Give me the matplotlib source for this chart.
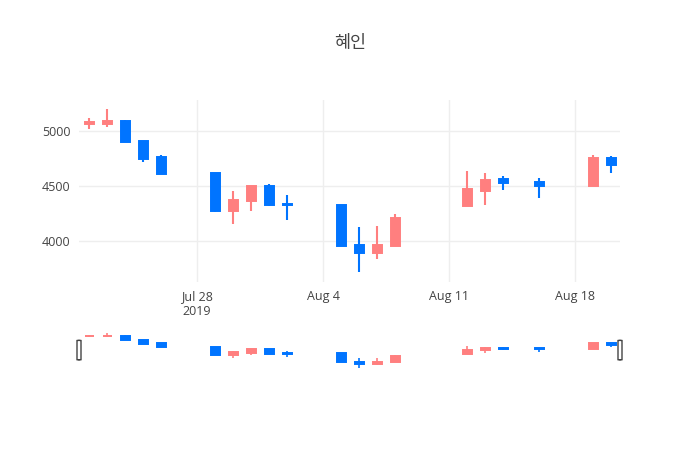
import pandas as pd
import matplotlib
matplotlib.use('Agg')
import matplotlib.pyplot as plt
import matplotlib.dates as mdates
from matplotlib.patches import FancyBboxPatch

# OHLC values
dates = ['2019-07-22', '2019-07-23', '2019-07-24', '2019-07-25', '2019-07-26',
         '2019-07-29', '2019-07-30', '2019-07-31', '2019-08-01', '2019-08-02',
         '2019-08-05', '2019-08-06', '2019-08-07', '2019-08-08',
         '2019-08-12', '2019-08-13', '2019-08-14', '2019-08-16',
         '2019-08-19', '2019-08-20']
opens = [5060, 5060, 5090, 4910, 4760, 4615, 4270, 4365, 4500, 4335,
         4330, 3965, 3895, 3950, 4315, 4455, 4560, 4540, 4500, 4755]
highs = [5120, 5200, 5100, 4910, 4780, 4620, 4450, 4500, 4520, 4420,
         4330, 4130, 4140, 4245, 4635, 4620, 4590, 4575, 4780, 4775]
lows = [5015, 5040, 4900, 4720, 4605, 4265, 4155, 4270, 4320, 4190,
        3950, 3715, 3835, 3950, 4315, 4330, 4465, 4390, 4500, 4620]
closes = [5080, 5090, 4900, 4750, 4605, 4270, 4375, 4500, 4325, 4325,
          3950, 3895, 3965, 4205, 4470, 4555, 4530, 4500, 4755, 4690]

title = '혜인'
x_ticks = ['2019-07-28', '2019-08-04', '2019-08-11', '2019-08-18']
x_tick_labels = ['Jul 28\n2019', 'Aug 4', 'Aug 11', 'Aug 18']
y_ticks = [4000, 4500, 5000]

up_color = '#ff7f7f'
down_color = '#0074ff'
text_color = '#444444'

df = pd.DataFrame({'Date': pd.to_datetime(dates), 'Open': opens, 'High': highs,
                   'Low': lows, 'Close': closes})
df['x'] = mdates.date2num(df['Date'])
df['color'] = [up_color if c >= o else down_color for o, c in zip(df['Open'], df['Close'])]

x0 = df['x'].iloc[0] - 0.56
x1 = df['x'].iloc[-1] + 0.5
ylim = (3627, 5282)


def draw_candles(ax, lw, edge):
    for _, r in df.iterrows():
        ax.vlines(r['x'], r['Low'], r['High'], color=r['color'], linewidth=lw, zorder=3)
        lo, hi = min(r['Open'], r['Close']), max(r['Open'], r['Close'])
        ax.bar(r['x'], hi - lo, bottom=lo, width=0.5, color=r['color'],
               edgecolor=r['color'], linewidth=edge, zorder=3)


fig = plt.figure(figsize=(7, 4.5), dpi=100)

# main chart
ax = fig.add_axes([79 / 700, 1 - 282 / 450, 541 / 700, 182 / 450])
draw_candles(ax, 1.5, 1.4)
ax.set_xlim(x0, x1)
ax.set_ylim(*ylim)
ax.set_xticks(mdates.date2num(pd.to_datetime(x_ticks)))
ax.set_xticklabels(x_tick_labels)
ax.set_yticks(y_ticks)
ax.set_yticklabels([str(v) for v in y_ticks])
ax.tick_params(length=0, labelsize=9, colors=text_color, pad=6)
for lab in ax.get_xticklabels() + ax.get_yticklabels():
    lab.set_family(['Open Sans', 'DejaVu Sans'])
ax.grid(True, color='#eeeeee', linewidth=1, zorder=0)
ax.set_axisbelow(True)
for s in ax.spines.values():
    s.set_visible(False)

# range slider
ax2 = fig.add_axes([79 / 700, 1 - 370 / 450, 541 / 700, 39 / 450])
draw_candles(ax2, 1.2, 1.4)
ax2.set_xlim(x0, x1)
ax2.set_ylim(*ylim)
ax2.set_xticks([])
ax2.set_yticks([])
for s in ax2.spines.values():
    s.set_visible(False)
for hx in (0.0, 1.0):
    handle = FancyBboxPatch((hx - 2 / 541, 0.26), 4 / 541, 0.5,
                            boxstyle='round,pad=0,rounding_size=0.004',
                            transform=ax2.transAxes, clip_on=False,
                            facecolor='white', edgecolor='#444444', linewidth=1, zorder=5)
    ax2.add_patch(handle)

fig.text(350 / 700, 1 - 43 / 450, title, ha='center', va='center', fontsize=12.5,
         color=text_color, family=['Noto Sans CJK KR', 'DejaVu Sans'])

fig.savefig('out.png', dpi=100, facecolor='white')
